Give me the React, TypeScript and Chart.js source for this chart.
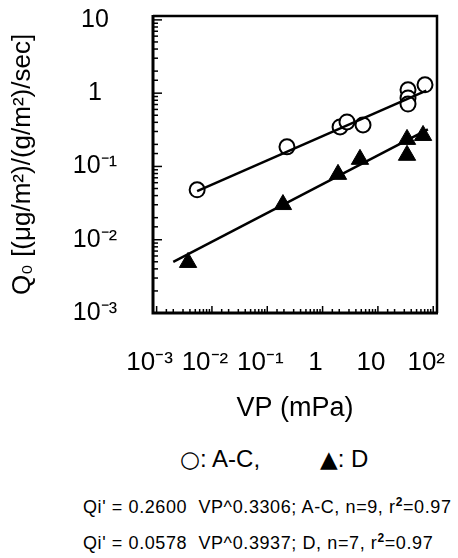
import React, { useEffect, useRef } from 'react';
import { Chart, registerables } from 'chart.js';

Chart.register(...registerables);

// ---- data ----
const acVP = [0.0054, 0.227, 2.07, 2.76, 5.38, 35, 35, 35, 71];
const acQ = [0.048, 0.185, 0.346, 0.405, 0.369, 1.11, 0.86, 0.71, 1.3];
const dVP = [0.0037, 0.192, 1.9, 4.74, 33.6, 65.5, 33.6];
const dQ = [0.0049, 0.0302, 0.078, 0.125, 0.234, 0.265, 0.142];
const acFitVP = [0.0054, 75];
const acFitQ = [0.046, 1.08];
const dFitVP = [0.002, 80];
const dFitQ = [0.005, 0.32];
const xTickExps = [-3, -2, -1, 0, 1, 2];
const xTickLabels = ['10⁻³', '10⁻²', '10⁻¹', '1', '10', '10²'];
const yTickExps = [-3, -2, -1, 0, 1];
const yTickLabels = ['10⁻³', '10⁻²', '10⁻¹', '1', '10'];
const xRange = [0.00086, 117];
const yRange = [0.001, 11.3];
const xTitle = 'VP (mPa)';
const yTitle = 'Q₀ [(μg/m²)/(g/m²)/sec]';
const legendACSymbol = '○';
const legendACText = ': A-C,';
const legendDSymbol = '▲';
const legendDText = ': D';
const eq1 = ["Qi' = 0.2600  VP^0.3306; A-C, n=9, r", '=0.97'];
const eq2 = ["Qi' = 0.0578  VP^0.3937; D, n=7, r", '=0.97'];

const toPts = (xs: number[], ys: number[]) => xs.map((x, i) => ({ x, y: ys[i] }));
const isPow10 = (v: number) => Math.abs(Math.log10(v) - Math.round(Math.log10(v))) < 1e-9;
const labelFor = (v: number, exps: number[], labels: string[]) => {
  if (!isPow10(v)) return '';
  const i = exps.indexOf(Math.round(Math.log10(v)));
  return i >= 0 ? labels[i] : '';
};

export default function App() {
  const ref = useRef<HTMLCanvasElement>(null);

  useEffect(() => {
    const canvas = ref.current;
    if (!canvas) return;

    const decor = {
      id: 'decor',
      beforeDatasetsDraw(chart: any) {
        const { ctx, chartArea: a, scales } = chart;
        const xs = scales.x;
        const ys = scales.y;
        ctx.save();
        ctx.strokeStyle = '#000';
        ctx.lineWidth = 1.5;
        xs.ticks.forEach((t: any) => {
          if (t.value <= xs.min || t.value >= xs.max) return;
          const p = xs.getPixelForValue(t.value);
          const len = isPow10(t.value) ? 7 : 4;
          ctx.beginPath();
          ctx.moveTo(p, a.bottom);
          ctx.lineTo(p, a.bottom - len);
          ctx.stroke();
        });
        ys.ticks.forEach((t: any) => {
          if (t.value <= ys.min || t.value >= ys.max) return;
          const p = ys.getPixelForValue(t.value);
          const len = isPow10(t.value) ? 9 : 5;
          ctx.beginPath();
          ctx.moveTo(a.left, p);
          ctx.lineTo(a.left + len, p);
          ctx.stroke();
        });
        ctx.lineWidth = 2.5;
        ctx.beginPath();
        ctx.moveTo(a.left, a.top);
        ctx.lineTo(a.right, a.top);
        ctx.lineTo(a.right, a.bottom);
        ctx.stroke();
        ctx.lineWidth = 3;
        ctx.beginPath();
        ctx.moveTo(a.left, a.top - 1);
        ctx.lineTo(a.left, a.bottom);
        ctx.lineTo(a.right + 1, a.bottom);
        ctx.stroke();
        ctx.restore();
      },
    };

    const chart = new Chart(canvas, {
      type: 'scatter',
      data: {
        datasets: [
          {
            label: 'A-C fit',
            data: toPts(acFitVP, acFitQ),
            showLine: true,
            borderColor: '#000',
            borderWidth: 2.5,
            pointRadius: 0,
            order: 0,
          },
          {
            label: 'D fit',
            data: toPts(dFitVP, dFitQ),
            showLine: true,
            borderColor: '#000',
            borderWidth: 2.5,
            pointRadius: 0,
            order: 0,
          },
          {
            label: 'A-C',
            data: toPts(acVP, acQ),
            pointStyle: 'circle',
            pointRadius: 7.5,
            borderWidth: 2,
            borderColor: '#000',
            backgroundColor: '#fff',
            order: 1,
          },
          {
            label: 'D',
            data: toPts(dVP, dQ),
            pointStyle: 'triangle',
            pointRadius: 10,
            borderWidth: 1,
            borderColor: '#000',
            backgroundColor: '#000',
            order: 1,
          },
        ],
      },
      options: {
        animation: false,
        responsive: false,
        events: [],
        layout: { padding: { left: 0, right: 21, top: 16, bottom: 0 } },
        plugins: { legend: { display: false }, tooltip: { enabled: false }, title: { display: false } },
        scales: {
          x: {
            type: 'logarithmic',
            min: xRange[0],
            max: xRange[1],
            grid: { display: false },
            border: { display: false },
            afterFit: (s: any) => {
              s.height = 117;
              s.paddingLeft = 0;
              s.paddingRight = 0;
            },
            ticks: {
              autoSkip: false,
              maxRotation: 0,
              minRotation: 0,
              padding: 26,
              labelOffset: -7,
              color: '#000',
              font: { family: '"Liberation Sans", sans-serif', size: 26 },
              callback: (v: any) => labelFor(Number(v), xTickExps, xTickLabels),
            },
            title: {
              display: true,
              text: xTitle,
              color: '#000',
              font: { family: '"Liberation Sans", sans-serif', size: 27 },
              padding: { top: 0, bottom: 5 },
            },
          },
          y: {
            type: 'logarithmic',
            min: yRange[0],
            max: yRange[1],
            grid: { display: false },
            border: { display: false },
            afterFit: (s: any) => {
              s.width = 153;
              s.paddingTop = 0;
              s.paddingBottom = 0;
            },
            ticks: {
              autoSkip: false,
              crossAlign: 'center',
              padding: 28,
              color: '#000',
              font: { family: '"Liberation Sans", sans-serif', size: 25 },
              callback: (v: any) => labelFor(Number(v), yTickExps, yTickLabels),
            },
            title: {
              display: true,
              text: yTitle,
              color: '#000',
              font: { family: '"Liberation Sans", sans-serif', size: 26 },
              padding: { top: 7, bottom: 0 },
            },
          },
        },
      },
      plugins: [decor],
    } as any);

    return () => chart.destroy();
  }, []);

  const supStyle: React.CSSProperties = { fontSize: 12, fontWeight: 'bold', verticalAlign: 'super', lineHeight: 0 };
  const symStyle: React.CSSProperties = { fontFamily: '"DejaVu Sans", sans-serif', fontSize: 23 };

  return (
    <div
      style={{
        position: 'fixed',
        left: 0,
        top: 0,
        width: 458,
        height: 558,
        background: '#fff',
        color: '#000',
        fontFamily: '"Liberation Sans", Arial, sans-serif',
        overflow: 'hidden',
      }}
    >
      <canvas ref={ref} width={458} height={430} style={{ display: 'block' }} />
      <span style={{ position: 'absolute', left: 180, top: 446, fontSize: 24, lineHeight: '26px', whiteSpace: 'pre' }}>
        <span style={symStyle}>{legendACSymbol}</span>
        {legendACText}
      </span>
      <span style={{ position: 'absolute', left: 320, top: 446, fontSize: 24, lineHeight: '26px', whiteSpace: 'pre' }}>
        <span style={symStyle}>{legendDSymbol}</span>
        {legendDText}
      </span>
      <div
        style={{
          position: 'absolute',
          left: 83,
          top: 489,
          fontSize: 18,
          lineHeight: '36px',
          letterSpacing: 0.6,
          whiteSpace: 'pre',
        }}
      >
        <div>
          {eq1[0]}
          <span style={supStyle}>2</span>
          {eq1[1]}
        </div>
        <div>
          {eq2[0]}
          <span style={supStyle}>2</span>
          {eq2[1]}
        </div>
      </div>
    </div>
  );
}
